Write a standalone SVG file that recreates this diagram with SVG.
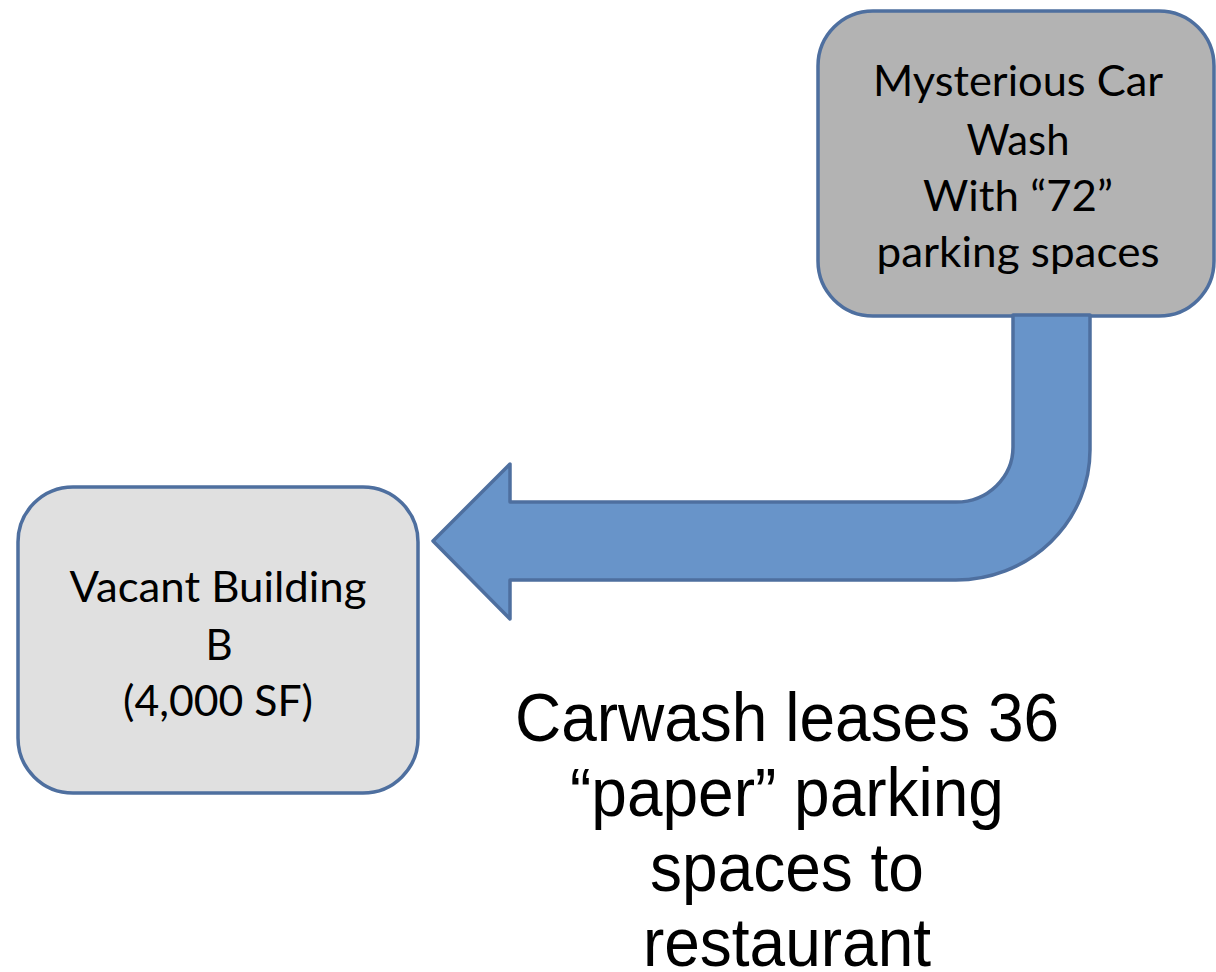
<svg xmlns="http://www.w3.org/2000/svg" width="1216" height="972" viewBox="0 0 1216 972">
<style>
.box{stroke:#4e6f9f;stroke-width:3.5}
.lbl{font-family:Lato,"Open Sans","Liberation Sans",sans-serif;font-size:42px;fill:#000;text-anchor:middle}
.big{font-family:"Liberation Sans",Arial,sans-serif;font-size:64px;fill:#000;text-anchor:middle}
.arrow{fill:#6894c9;stroke:#4e6f9f;stroke-width:3.5;stroke-linejoin:round}
</style>
<rect width="1216" height="972" fill="#ffffff"/>
<g id="carwash">
<rect class="box" x="818" y="11" width="396" height="305" rx="55" ry="55" fill="#b3b3b3"/>
<text class="lbl" x="1018" y="96" textLength="290" lengthAdjust="spacingAndGlyphs">Mysterious Car</text>
<text class="lbl" x="1018" y="155" textLength="103" lengthAdjust="spacingAndGlyphs">Wash</text>
<text class="lbl" x="1018" y="211" textLength="190" lengthAdjust="spacingAndGlyphs">With “72”</text>
<text class="lbl" x="1018" y="267" textLength="283" lengthAdjust="spacingAndGlyphs">parking spaces</text>
</g>
<g id="vacant">
<rect class="box" x="18" y="487" width="400" height="306" rx="55" ry="55" fill="#e0e0e0"/>
<text class="lbl" x="218" y="602" textLength="297" lengthAdjust="spacingAndGlyphs">Vacant Building</text>
<text class="lbl" x="219" y="660">B</text>
<text class="lbl" x="218" y="716" textLength="190" lengthAdjust="spacingAndGlyphs">(4,000 SF)</text>
</g>
<g id="connectors">
<path class="arrow" d="M1013,315 L1090,315 L1090,450 A134,130 0 0 1 956,580 L510,580 L510,619 L433,541 L510,464 L510,502 L956,502 A57,55 0 0 0 1013,447 Z"/>
</g>
<g id="caption" transform="translate(787,0) scale(1,1.08)">
<text class="big" x="0" y="686">Carwash leases 36</text>
<text class="big" x="0" y="755.5">“paper” parking</text>
<text class="big" x="0" y="825">spaces to</text>
<text class="big" x="0" y="894.5">restaurant</text>
</g>
</svg>
